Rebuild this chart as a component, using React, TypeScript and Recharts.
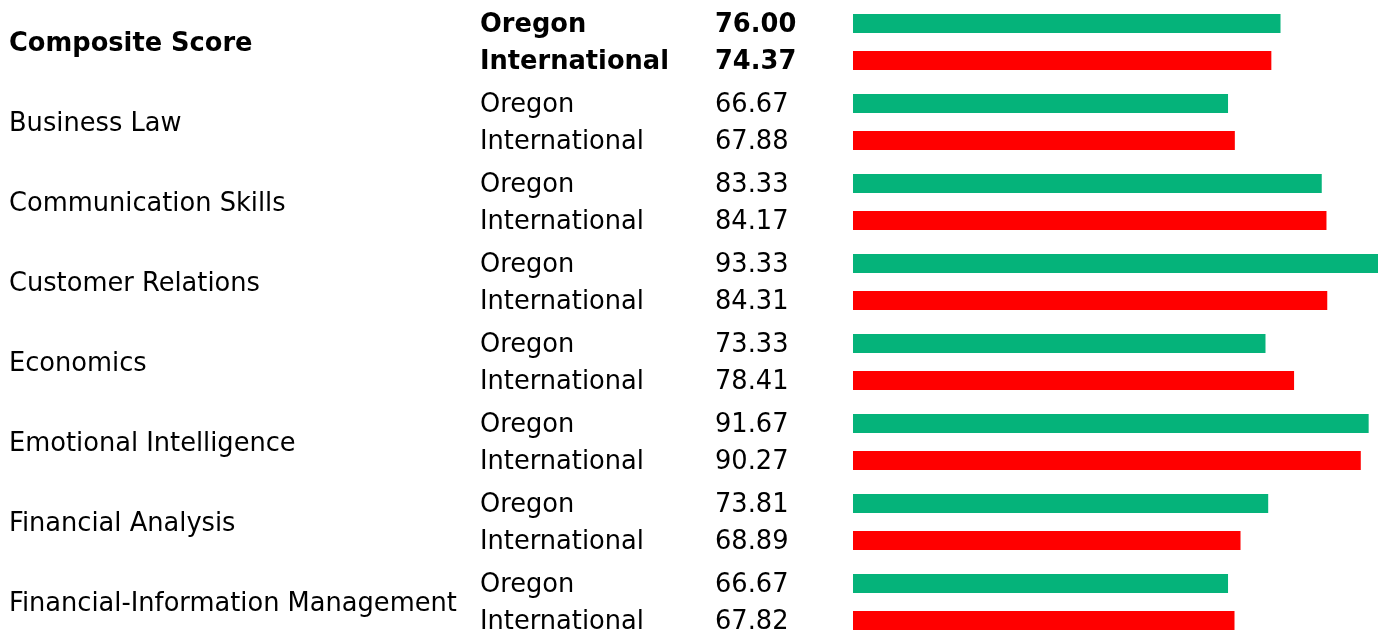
import React from 'react';
import { BarChart, Bar, XAxis, YAxis, LabelList } from 'recharts';

const categories = [
  'Composite Score',
  'Business Law',
  'Communication Skills',
  'Customer Relations',
  'Economics',
  'Emotional Intelligence',
  'Financial Analysis',
  'Financial-Information Management',
];
const oregonScores = [76.0, 66.67, 83.33, 93.33, 73.33, 91.67, 73.81, 66.67];
const internationalScores = [74.37, 67.88, 84.17, 84.31, 78.41, 90.27, 68.89, 67.82];
const groupNames = ['Oregon', 'International'];

const data = categories.map((name, i) => ({
  name,
  oregon: oregonScores[i],
  international: internationalScores[i],
}));

const FONT = '"DejaVu Sans", Verdana, sans-serif';
const FONT_SIZE = 25.7;

const CategoryTick = (props: any) => {
  const { y, payload, index } = props;
  return (
    <text
      x={1}
      y={y + 8.5}
      fontFamily={FONT}
      fontSize={FONT_SIZE}
      fontWeight={index === 0 ? 'bold' : 'normal'}
      fill="#000"
      textAnchor="start"
    >
      {payload.value}
    </text>
  );
};

const rowLabel = (group: string) => (props: any) => {
  const { y, height, value, index } = props;
  const baseY = Number(y) + Number(height) / 2 + 8.5;
  const weight = index === 0 ? 'bold' : 'normal';
  return (
    <g>
      <text x={472} y={baseY} fontFamily={FONT} fontSize={FONT_SIZE} fontWeight={weight} fill="#000">
        {group}
      </text>
      <text x={707} y={baseY} fontFamily={FONT} fontSize={FONT_SIZE} fontWeight={weight} fill="#000">
        {Number(value).toFixed(2)}
      </text>
    </g>
  );
};

export default function App() {
  return (
    <div style={{ position: 'fixed', left: 8, top: 2, width: 1370, height: 640 }}>
      <BarChart
        width={1370}
        height={640}
        data={data}
        layout="vertical"
        margin={{ top: 0, right: 0, bottom: 0, left: 0 }}
        barSize={19}
        barGap={18}
      >
        <XAxis type="number" hide domain={[0, 'dataMax']} />
        <YAxis
          type="category"
          dataKey="name"
          width={845}
          axisLine={false}
          tickLine={false}
          interval={0}
          tick={<CategoryTick />}
        />
        <Bar dataKey="oregon" fill="#05b37a" isAnimationActive={false}>
          <LabelList dataKey="oregon" content={rowLabel(groupNames[0])} />
        </Bar>
        <Bar dataKey="international" fill="#ff0000" isAnimationActive={false}>
          <LabelList dataKey="international" content={rowLabel(groupNames[1])} />
        </Bar>
      </BarChart>
    </div>
  );
}
